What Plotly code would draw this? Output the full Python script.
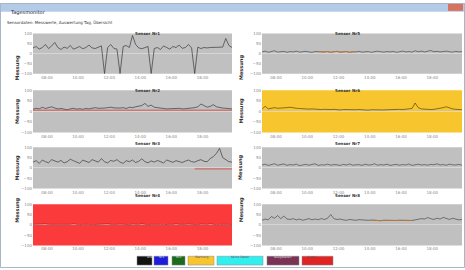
import numpy as np
import plotly.graph_objects as go
from plotly.subplots import make_subplots

# ---------------- data ----------------
titles = ["Sensor Nr1", "Sensor Nr5", "Sensor Nr2", "Sensor Nr6",
          "Sensor Nr3", "Sensor Nr7", "Sensor Nr4", "Sensor Nr8"]
tick_hours = [8, 10, 12, 14, 16, 18]
tick_labels = ["08:00", "10:00", "12:00", "14:00", "16:00", "18:00"]
y_ticks = [-100, -50, 0, 50, 100]

s1 = [28, 35, 22, 30, 45, 25, 38, 55, 30, 20, 32, 26, 40, 22, 28, 35, 24, 30, 42, 28,
      25, 33, 38, -100, 30, 45, 26, 22, -100, 35, 40, 30, 90, 45, 28, 24, 30, 35, -100, 25,
      30, 20, 38, 28, 22, 35, 30, 42, 26, 30, 45, 28, -100, 32, 25, 30, 28, 30, 30, 30,
      30, 32, 75, 40, 30]
s2 = [10, 15, 12, 20, 14, 18, 22, 16, 12, 14, 10, 8, 12, 15, 11, 13, 10, 14, 12, 16,
      18, 15, 14, 16, 18, 20, 17, 15, 16, 18, 14, 20, 18, 22, 25, 28, 38, 24, 30, 20,
      18, 15, 14, 12, 13, 12, 14, 15, 12, 13, 14, 16, 18, 22, 35, 28, 20, 24, 32, 22,
      18, 16, 15, 14, 12]
s3 = [28, 35, 22, 38, 30, 25, 40, 32, 28, 36, 24, 30, 42, 35, 28, 22, 38, 30, 26, 40,
      34, 28, 45, 30, 24, 36, 32, 40, 28, 22, 35, 30, 38, 26, 32, 44, 30, 25, 34, 28,
      36, 30, 24, 38, 32, 27, 35, 30, 26, 33, 38, 30, 28, 35, 40, 32, 30, 45, 55, 70,
      95, 50, 38, 30, 28]
s4 = [2, 3, 1, 2, 4, 2, 1, 3, 2, 2, 1, 3, 2, 4, 2, 1, 2, 3, 2, 1,
      2, 3, 2, 2, 4, 2, 1, 2, 3, 2, 2, 1, 3, 2, 2, 4, 2, 1, 2, 3,
      2, 2, 1, 3, 2, 2, 4, 2, 1, 2, 3, 2, 2, 1, 3, 2, 2, 4, 2, 1,
      2, 3, 2, 2, 1]
s5 = [8, 12, 6, 10, 14, 7, 9, 11, 6, 10, 8, 12, 7, 9, 11, 8, 6, 10, 9, 7,
      8, 10, 6, 9, 11, 7, 8, 10, 6, 9, 8, 11, 7, 9, 10, 6, 8, 12, 9, 7,
      10, 8, 11, 6, 9, 12, 8, 10, 7, 14, 9, 12, 8, 10, 15, 9, 11, 8, 10, 12,
      9, 7, 11, 8, 10]
s6 = [10, 25, 12, 14, 18, 15, 16, 14, 18, 20, 16, 15, 14, 12, 13, 11, 12, 10, 11, 9,
      10, 8, 9, 10, 8, 7, 9, 8, 10, 7, 8, 9, 7, 8, 6, 8, 7, 9, 8, 7,
      8, 9, 7, 8, 10, 9, 11, 12, 14, 40, 18, 12, 10, 11, 9, 10, 12, 14, 18, 22,
      16, 12, 10, 9, 8]
s7 = [14, 18, 12, 16, 20, 13, 15, 19, 12, 16, 14, 18, 11, 15, 17, 13, 16, 20, 12, 15,
      14, 18, 13, 16, 15, 12, 17, 14, 19, 13, 15, 16, 12, 18, 14, 15, 20, 13, 16, 14,
      18, 12, 15, 17, 13, 16, 14, 19, 12, 15, 18, 14, 16, 13, 17, 15, 20, 14, 16, 13,
      18, 15, 14, 17, 13]
s8 = [22, 28, 24, 40, 32, 45, 30, 42, 28, 26, 30, 24, 28, 22, 26, 30, 24, 28, 25, 30,
      26, 32, 50, 30, 26, 28, 24, 22, 26, 24, 22, 25, 23, 24, 22, 23, 21, 22, 20, 22,
      21, 22, 20, 21, 22, 21, 20, 22, 21, 24, 26, 30, 28, 35, 30, 26, 32, 28, 36, 30,
      26, 32, 28, 24, 26]
series = [s1, s5, s2, s6, s3, s7, s4, s8]

# highlighted (orange) sections: (panel index, first sample, last sample)
orange_sections = [(1, 18, 30), (7, 35, 48)]
# red reference line per panel: (panel index, level, first sample, last sample)
ref_lines = [(2, 6, 0, 64), (4, -5, 52, 64)]

bg_colors = ["#c0c0c0", "#c0c0c0", "#c0c0c0", "#f7c62f",
             "#c0c0c0", "#c0c0c0", "#fb3b3b", "#c0c0c0"]
line_colors = ["#3a3a3a", "#4a4a4a", "#3a3a3a", "#5a4210",
               "#3a3a3a", "#4a4a4a", "#9b1414", "#4a4a4a"]

legend_labels = ["Alle", "Nr1", "Nr2", "Warnung", "Keine Daten", "Ausgefallen", "Alarm"]
legend_colors = ["#121212", "#1d1ddb", "#1c6b1c", "#f7c62f", "#2ff0ef", "#7a3355", "#e02424"]

# ---------------- figure ----------------
W, H = 465, 270
fig = make_subplots(rows=4, cols=2)

def px_x(v):
    return v / W

def px_y(v):
    return 1 - v / H

col_px = [(33, 232), (262, 462)]
row_px = [(31, 72), (89, 132), (147, 189), (205, 247)]

for i, vals in enumerate(series):
    r, c = i // 2, i % 2
    x = np.linspace(7.1, 19.9, len(vals))
    fig.add_trace(go.Scatter(x=x, y=vals, mode="lines",
                             line=dict(color=line_colors[i], width=0.7),
                             showlegend=False, hoverinfo="skip"),
                  row=r + 1, col=c + 1)

for (p, a, b) in orange_sections:
    vals = series[p]
    x = np.linspace(7.1, 19.9, len(vals))
    fig.add_trace(go.Scatter(x=x[a:b + 1], y=vals[a:b + 1], mode="lines",
                             line=dict(color="#c87a30", width=0.8),
                             showlegend=False, hoverinfo="skip"),
                  row=p // 2 + 1, col=p % 2 + 1)

for (p, lvl, a, b) in ref_lines:
    vals = series[p]
    x = np.linspace(7.1, 19.9, len(vals))
    fig.add_trace(go.Scatter(x=[x[a], x[b]], y=[lvl, lvl], mode="lines",
                             line=dict(color="#d83a3a", width=0.8),
                             showlegend=False, hoverinfo="skip"),
                  row=p // 2 + 1, col=p % 2 + 1)

annotations = []
shapes = []
for i in range(8):
    r, c = i // 2, i % 2
    n = i + 1
    xa = "xaxis" if n == 1 else f"xaxis{n}"
    ya = "yaxis" if n == 1 else f"yaxis{n}"
    x0, x1 = col_px[c]
    y0, y1 = row_px[r]
    fig.layout[xa].update(domain=[px_x(x0), px_x(x1)], range=[7.1, 19.9],
                          tickvals=tick_hours, ticktext=tick_labels,
                          tickfont=dict(size=4, color="#888"), showgrid=False,
                          zeroline=False, ticks="", showline=False, ticklen=0)
    fig.layout[ya].update(domain=[px_y(y1), px_y(y0)], range=[-100, 100],
                          tickvals=y_ticks, tickfont=dict(size=4, color="#888"),
                          showgrid=False, zeroline=True, zerolinecolor="#d6d6d6",
                          zerolinewidth=0.6, ticks="", showline=False)
    shapes.append(dict(type="rect", xref="paper", yref="paper", layer="below",
                       x0=px_x(x0), x1=px_x(x1), y0=px_y(y1), y1=px_y(y0),
                       fillcolor=bg_colors[i], line=dict(width=0)))
    annotations.append(dict(text=f"<b>{titles[i]}</b>", xref="paper", yref="paper",
                            x=px_x((x0 + x1) / 2), y=px_y(y0 - 4), showarrow=False,
                            font=dict(size=4, color="#333")))
    annotations.append(dict(text="<b>Messung</b>", xref="paper", yref="paper",
                            x=px_x(x0 - 21), y=px_y((y0 + y1) / 2), textangle=-90,
                            showarrow=False, font=dict(size=5, color="#333")))

# window decoration
shapes.append(dict(type="rect", xref="paper", yref="paper", x0=0, x1=1,
                   y0=px_y(9), y1=1, fillcolor="#b4cbe8", line=dict(width=0), layer="below"))
shapes.append(dict(type="rect", xref="paper", yref="paper", x0=px_x(448), x1=px_x(463),
                   y0=px_y(8), y1=px_y(1), fillcolor="#d6735e", line=dict(width=0), layer="below"))
shapes.append(dict(type="rect", xref="paper", yref="paper", x0=px_x(0.5), x1=px_x(464.5),
                   y0=px_y(269.5), y1=px_y(0.5), fillcolor="rgba(0,0,0,0)",
                   line=dict(width=1, color="#a9b6c6"), layer="below"))
annotations.append(dict(text="Tagesmonitor", xref="paper", yref="paper", x=px_x(8),
                        y=px_y(4.5), xanchor="left", showarrow=False,
                        font=dict(size=5, color="#223")))
annotations.append(dict(text="Sensordaten: Messwerte, Auswertung Tag, Übersicht",
                        xref="paper", yref="paper", x=px_x(5), y=px_y(15),
                        xanchor="left", showarrow=False, font=dict(size=4, color="#333")))

# legend buttons
leg_px = [(137, 152), (154, 168), (172, 185), (188, 214), (217, 263), (267, 299), (302, 333)]
for (a, b), lab, col in zip(leg_px, legend_labels, legend_colors):
    shapes.append(dict(type="rect", xref="paper", yref="paper", x0=px_x(a), x1=px_x(b),
                       y0=px_y(267), y1=px_y(258), fillcolor=col,
                       line=dict(width=0.5, color="#888")))
    annotations.append(dict(text=lab, xref="paper", yref="paper", x=px_x((a + b) / 2),
                            y=px_y(262.5), showarrow=False,
                            font=dict(size=3, color="#ddd" if col in ("#121212", "#1d1ddb", "#1c6b1c", "#7a3355") else "#555")))

fig.update_layout(width=W, height=H, margin=dict(l=0, r=0, t=0, b=0),
                  paper_bgcolor="#ffffff", plot_bgcolor="rgba(0,0,0,0)",
                  shapes=shapes, annotations=annotations,
                  font=dict(family="DejaVu Sans"))
fig.write_html("out.html", config={"displayModeBar": False},
               post_script="document.body.style.margin='0';document.body.style.overflow='hidden';")
